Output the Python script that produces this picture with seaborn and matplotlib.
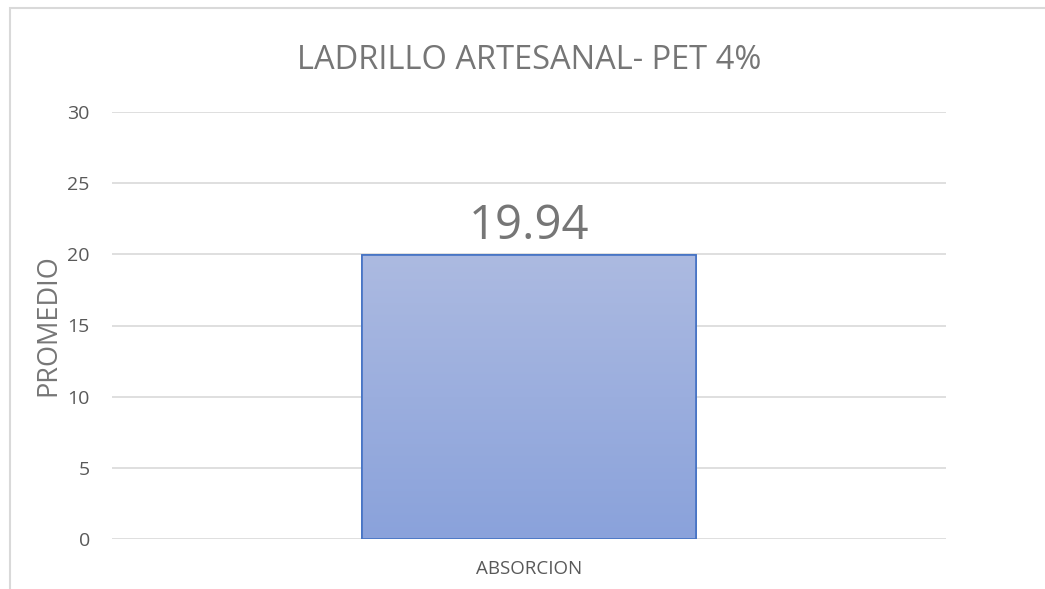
import matplotlib
matplotlib.use("Agg")
import matplotlib.pyplot as plt
import seaborn as sns
import numpy as np
import pandas as pd
from matplotlib.patches import Rectangle
from matplotlib.colors import LinearSegmentedColormap

# data
categories = ["ABSORCION"]
values = [19.94]
title = "LADRILLO ARTESANAL- PET 4%"
y_label = "PROMEDIO"
y_ticks = [0, 5, 10, 15, 20, 25, 30]

sns.set_theme(style="white")
plt.rcParams["font.family"] = ["Open Sans", "DejaVu Sans"]

gray = "#595959"
light = "#767676"
grid = "#D9D9D9"

fig = plt.figure(figsize=(10.45, 5.89), dpi=100)
ax = fig.add_axes([112 / 1045, 1 - 539 / 589, (946 - 112) / 1045, (539 - 112) / 589])

df = pd.DataFrame({"cat": categories, "val": values})
sns.barplot(data=df, x="cat", y="val", width=0.4, color="#94A8DD",
            edgecolor="#4472C4", linewidth=1.2, ax=ax, zorder=3)

# gradient fill on the bar
cmap = LinearSegmentedColormap.from_list("g", ["#8AA2DB", "#ACBAE1"])
for p in ax.patches:
    x0, y0 = p.get_x(), p.get_y()
    w, h = p.get_width(), p.get_height()
    im = ax.imshow(np.linspace(0, 1, 256).reshape(-1, 1), cmap=cmap, origin="lower",
                   extent=[x0, x0 + w, y0, y0 + h], aspect="auto", zorder=3.5)
    im.set_clip_path(p)
    ax.add_patch(Rectangle((x0, y0), w, h, fill=False, edgecolor="#4472C4",
                           linewidth=1.2, zorder=4))
    ax.text(x0 + w / 2, y0 + h + 1.15, f"{values[0]:.2f}", ha="center", va="baseline",
            fontsize=34, color=light, zorder=5)

ax.set_xlim(-0.5, 0.5)
ax.set_ylim(0, 30)
ax.set_yticks(y_ticks)
ax.yaxis.grid(True, color=grid, linewidth=1.2)
ax.set_axisbelow(True)
for s in ax.spines.values():
    s.set_visible(False)
ax.tick_params(axis="y", length=0, pad=16, labelsize=14, labelcolor=gray)
ax.tick_params(axis="x", length=0, pad=15, labelsize=13.5, labelcolor=gray)
ax.set_xlabel("")
ax.set_ylabel(y_label, fontsize=19.5, color=light)
ax.yaxis.set_label_coords(-0.060, 0.5)
ax.set_title(title, fontsize=23.5, color=light, pad=31)

# outer chart frame (cropped)
fig.add_artist(Rectangle((10 / 1045, -0.1), 1.2, 1 - 8 / 589 + 0.1, transform=fig.transFigure,
                         fill=False, edgecolor=grid, linewidth=1.5))

fig.savefig("out.png", dpi=100)
